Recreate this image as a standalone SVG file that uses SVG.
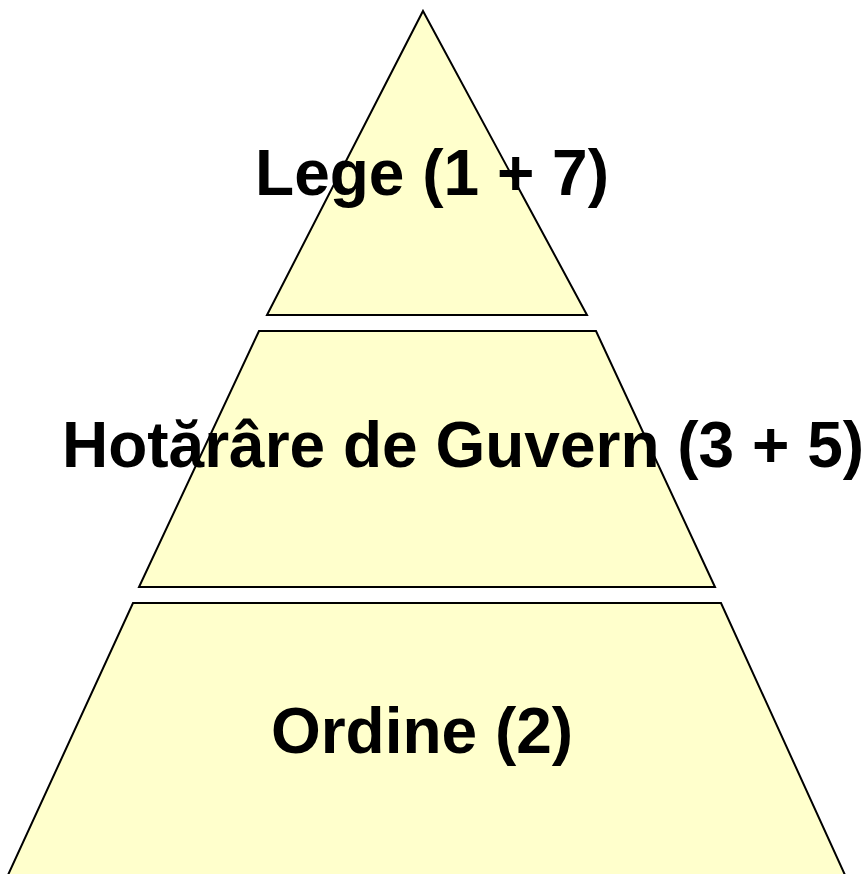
<svg xmlns="http://www.w3.org/2000/svg" width="865" height="874" viewBox="0 0 865 874">
<style>
.tier{fill:#FFFFCC;stroke:#000;stroke-width:2;stroke-linejoin:miter}
.lbl{font-family:"Liberation Sans",Arial,sans-serif;font-weight:bold;font-size:64px;fill:#000;text-anchor:middle}
</style>
<rect width="865" height="874" fill="#fff"/>
<g id="tier-lege">
<polygon class="tier" points="423,11 587,315 267,315"/>
</g>
<g id="tier-hg">
<polygon class="tier" points="259,331 596,331 715,587 139,587"/>
</g>
<g id="tier-ordine">
<polygon class="tier" points="133,603 721,603 845,875 8,875"/>
</g>
<g id="connectors"></g>
<g id="labels">
<text class="lbl" x="432" y="195">Lege (1 + 7)</text>
<text class="lbl" x="463" y="467">Hotărâre de Guvern (3 + 5)</text>
<text class="lbl" x="422" y="753">Ordine (2)</text>
</g>
</svg>
